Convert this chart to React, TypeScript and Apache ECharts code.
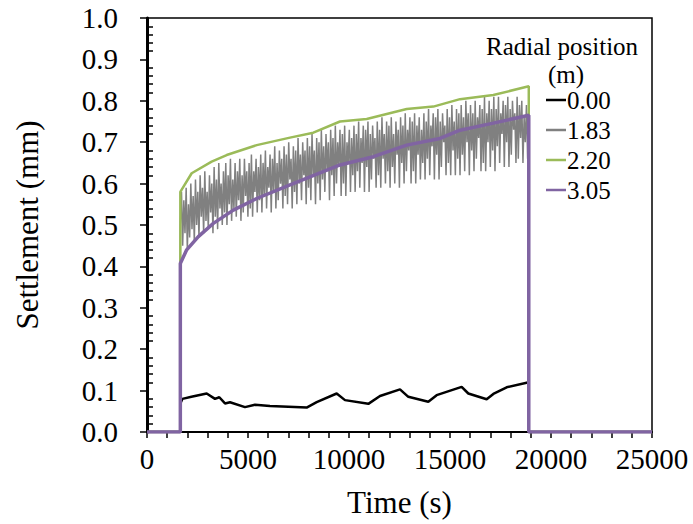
import React, { useEffect, useRef } from "react";
import * as echarts from "echarts";

// ---- data ----
const seriesNames = ["0.00", "1.83", "2.20", "3.05"];
const seriesColors = ["#000000", "#808080", "#9BBB59", "#8064A2"];
const loadOn = 1650;
const loadOff = 18900;
const xMax = 25000;

const blackTimes = [1650, 1750, 2200, 2955, 3366, 3580, 3861, 4109, 4851, 5347, 6089, 7000, 7904, 8400, 9390, 9802, 10957, 11535, 12525, 12937, 13926, 14339, 15577, 15907, 16815, 17145, 17805, 18900];
const blackValues = [0.069, 0.080, 0.085, 0.093, 0.080, 0.084, 0.069, 0.072, 0.060, 0.066, 0.063, 0.061, 0.059, 0.072, 0.093, 0.077, 0.068, 0.087, 0.103, 0.085, 0.073, 0.089, 0.109, 0.093, 0.079, 0.092, 0.108, 0.120];

const greenTimes = [1650, 2211, 3201, 3944, 5431, 7079, 8234, 9554, 10876, 12856, 14176, 15495, 17145, 18900];
const greenValues = [0.580, 0.625, 0.653, 0.669, 0.693, 0.711, 0.723, 0.750, 0.756, 0.780, 0.786, 0.804, 0.814, 0.835];

const purpleTimes = [1650, 1964, 2541, 3284, 4274, 5431, 7079, 9554, 11205, 12856, 14505, 15495, 17145, 18900];
const purpleValues = [0.407, 0.440, 0.472, 0.504, 0.536, 0.564, 0.597, 0.645, 0.665, 0.693, 0.709, 0.729, 0.746, 0.765];

// gray (1.83 m) readings, evenly sampled between loadOn and loadOff
const grayValues = [
  0.50, 0.58, 0.45, 0.56, 0.48, 0.59, 0.44, 0.55, 0.47, 0.60,
  0.49, 0.57, 0.46, 0.61, 0.50, 0.58, 0.47, 0.62, 0.52, 0.59,
  0.48, 0.63, 0.51, 0.58, 0.49, 0.62, 0.53, 0.60, 0.48, 0.64,
  0.52, 0.61, 0.49, 0.65, 0.54, 0.60, 0.50, 0.63, 0.53, 0.65,
  0.50, 0.62, 0.55, 0.66, 0.51, 0.61, 0.54, 0.65, 0.52, 0.63,
  0.56, 0.66, 0.51, 0.62, 0.53, 0.66, 0.57, 0.63, 0.52, 0.65,
  0.54, 0.67, 0.52, 0.63, 0.58, 0.66, 0.53, 0.64, 0.56, 0.67,
  0.53, 0.65, 0.57, 0.68, 0.54, 0.64, 0.59, 0.67, 0.53, 0.66,
  0.58, 0.69, 0.54, 0.65, 0.56, 0.68, 0.60, 0.66, 0.54, 0.69,
  0.57, 0.67, 0.55, 0.70, 0.61, 0.66, 0.54, 0.69, 0.58, 0.68,
  0.55, 0.71, 0.60, 0.67, 0.56, 0.70, 0.62, 0.68, 0.55, 0.71,
  0.59, 0.69, 0.56, 0.72, 0.62, 0.68, 0.55, 0.71, 0.60, 0.70,
  0.56, 0.73, 0.61, 0.69, 0.58, 0.72, 0.63, 0.70, 0.56, 0.73,
  0.62, 0.71, 0.57, 0.74, 0.60, 0.70, 0.64, 0.73, 0.57, 0.72,
  0.60, 0.74, 0.57, 0.70, 0.65, 0.73, 0.58, 0.71, 0.62, 0.74,
  0.58, 0.72, 0.63, 0.75, 0.59, 0.71, 0.65, 0.74, 0.58, 0.73,
  0.64, 0.75, 0.58, 0.72, 0.61, 0.74, 0.66, 0.71, 0.59, 0.75,
  0.62, 0.73, 0.59, 0.76, 0.66, 0.72, 0.60, 0.75, 0.63, 0.74,
  0.59, 0.76, 0.64, 0.72, 0.60, 0.75, 0.67, 0.73, 0.59, 0.76,
  0.65, 0.74, 0.60, 0.77, 0.63, 0.73, 0.68, 0.76, 0.60, 0.75,
  0.63, 0.77, 0.60, 0.74, 0.67, 0.76, 0.61, 0.73, 0.65, 0.77,
  0.61, 0.75, 0.66, 0.78, 0.62, 0.74, 0.69, 0.77, 0.61, 0.76,
  0.67, 0.78, 0.61, 0.75, 0.64, 0.77, 0.70, 0.74, 0.62, 0.78,
  0.65, 0.76, 0.62, 0.79, 0.68, 0.75, 0.62, 0.78, 0.66, 0.77,
  0.62, 0.79, 0.67, 0.76, 0.63, 0.80, 0.70, 0.77, 0.62, 0.79,
  0.68, 0.77, 0.63, 0.80, 0.66, 0.76, 0.71, 0.79, 0.63, 0.78,
  0.65, 0.81, 0.63, 0.77, 0.70, 0.80, 0.64, 0.78, 0.68, 0.81,
  0.63, 0.78, 0.69, 0.81, 0.65, 0.77, 0.72, 0.80, 0.64, 0.79,
  0.70, 0.81, 0.64, 0.78, 0.67, 0.80, 0.73, 0.77, 0.65, 0.81,
  0.66, 0.79, 0.71, 0.80, 0.65, 0.76, 0.70, 0.79, 0.66, 0.75,
];

const FONT = "Liberation Serif";

function withZeros(times: number[], values: number[]): number[][] {
  const pts: number[][] = [[0, 0], [loadOn, 0]];
  times.forEach((t, i) => pts.push([t, values[i]]));
  pts.push([loadOff, 0], [xMax, 0]);
  return pts;
}

export default function App() {
  const ref = useRef<HTMLDivElement>(null);
  useEffect(() => {
    if (!ref.current) return;
    const chart = echarts.init(ref.current, undefined, { renderer: "svg" });
    const grayStep = (loadOff - loadOn) / (grayValues.length - 1);
    const grayTimes = grayValues.map((_, i) => loadOn + i * grayStep);
    const datasets = [
      withZeros(blackTimes, blackValues),
      withZeros(grayTimes, grayValues),
      withZeros(greenTimes, greenValues),
      withZeros(purpleTimes, purpleValues),
    ];
    const widths = [2.5, 1.5, 2.5, 3.5];
    chart.setOption({
      animation: false,
      backgroundColor: "#ffffff",
      textStyle: { fontFamily: FONT },
      grid: {
        left: 147,
        right: 41,
        top: 18,
        bottom: 92,
        show: true,
        borderColor: "#000",
        borderWidth: 1.5,
        backgroundColor: "transparent",
      },
      xAxis: {
        type: "value",
        min: 0,
        max: xMax,
        interval: 5000,
        name: "Time (s)",
        nameLocation: "middle",
        nameGap: 55,
        nameTextStyle: { fontFamily: FONT, fontSize: 31, color: "#000" },
        axisLine: { onZero: false, lineStyle: { color: "#000", width: 2 } },
        axisTick: { show: true, inside: false, length: 6, lineStyle: { color: "#000", width: 1.5 } },
        minorTick: { show: true, splitNumber: 5, length: 6, lineStyle: { color: "#000", width: 1.5 } },
        splitLine: { show: false },
        axisLabel: {
          fontFamily: FONT,
          fontSize: 29,
          color: "#000",
          margin: 12,
          formatter: (v: number) => String(v),
        },
      },
      yAxis: {
        type: "value",
        min: 0,
        max: 1,
        interval: 0.1,
        name: "Settlement (mm)",
        nameLocation: "middle",
        nameRotate: 90,
        nameGap: 104,
        nameTextStyle: { fontFamily: FONT, fontSize: 31, color: "#000" },
        axisLine: { lineStyle: { color: "#000", width: 3 } },
        axisTick: { show: true, inside: false, length: 7, lineStyle: { color: "#000", width: 1.5 } },
        minorTick: { show: true, splitNumber: 5, length: -6, lineStyle: { color: "#000", width: 1.5 } },
        splitLine: { show: false },
        axisLabel: {
          fontFamily: FONT,
          fontSize: 29,
          color: "#000",
          margin: 29,
          formatter: (v: number) => v.toFixed(1),
        },
      },
      legend: {
        orient: "vertical",
        left: 541,
        top: 80,
        icon: "rect",
        itemWidth: 20,
        itemHeight: 2.5,
        itemGap: 0,
        data: seriesNames,
        textStyle: { fontFamily: FONT, fontSize: 25, color: "#000", lineHeight: 30, padding: [0, 0, 0, -4] },
      },
      graphic: [
        {
          type: "text",
          left: 486,
          top: 34,
          style: { text: "Radial position", fontFamily: FONT, fontSize: 25, fill: "#000" },
        },
        {
          type: "text",
          left: 548,
          top: 62,
          style: { text: "(m)", fontFamily: FONT, fontSize: 25, fill: "#000" },
        },
      ],
      series: seriesNames.map((name, i) => ({
        name,
        type: "line",
        data: datasets[i],
        symbol: "none",
        showSymbol: false,
        color: seriesColors[i],
        itemStyle: { color: seriesColors[i] },
        lineStyle: { color: seriesColors[i], width: widths[i] },
        z: 2 + i,
      })),
    });
    return () => chart.dispose();
  }, []);
  return (
    <div
      ref={ref}
      style={{ position: "fixed", left: 0, top: 0, width: 693, height: 524, background: "#fff" }}
    />
  );
}
